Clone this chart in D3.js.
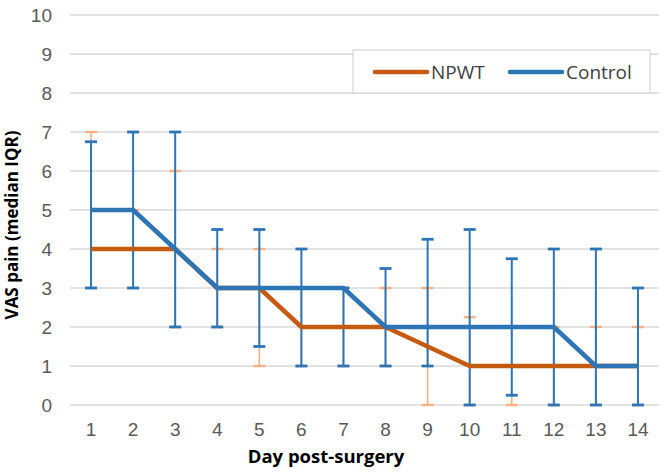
<!DOCTYPE html>
<html>
<head>
<meta charset="utf-8">
<script src="https://cdn.jsdelivr.net/npm/d3@7"></script>
<style>
  body { margin: 0; background: #fff; }
  svg { font-family: "Open Sans", "Noto Sans", sans-serif; }
</style>
</head>
<body>
<div id="wrapper"></div>
<script>
// data
const days = [1, 2, 3, 4, 5, 6, 7, 8, 9, 10, 11, 12, 13, 14]
const npwtMedian = [4, 4, 4, 3, 3, 2, 2, 2, 1.5, 1, 1, 1, 1, 1]
const npwtLow    = [3, 3, 2, 2, 1, 1, 1, 1, 0, 0, 0, 0, 0, 0]
const npwtHigh   = [7, 5, 6, 4, 4, 3, 3, 3, 3, 2.25, 2, 2, 2, 2]
const controlMedian = [5, 5, 4, 3, 3, 3, 3, 2, 2, 2, 2, 2, 1, 1]
const controlLow    = [3, 3, 2, 2, 1.5, 1, 1, 1, 1, 0, 0.25, 0, 0, 0]
const controlHigh   = [6.75, 7, 7, 4.5, 4.5, 4, 3, 3.5, 4.25, 4.5, 3.75, 4, 4, 3]
const yTicks = [0, 1, 2, 3, 4, 5, 6, 7, 8, 9, 10]

const series = [
    { name: "NPWT", median: npwtMedian, low: npwtLow, high: npwtHigh,
      color: "#c55a11", barColor: "#f4b183", barWidth: 1.6 },
    { name: "Control", median: controlMedian, low: controlLow, high: controlHigh,
      color: "#2e75b6", barColor: "#2e75b6", barWidth: 2 },
]

// Dimensions
const dimensions = {
    width: 664,
    height: 473,
    margins: { top: 15, right: 5, bottom: 68, left: 70 },
}
dimensions.boundedWidth = dimensions.width - dimensions.margins.left - dimensions.margins.right
dimensions.boundedHeight = dimensions.height - dimensions.margins.top - dimensions.margins.bottom

const svg = d3.select("#wrapper")
    .append("svg")
        .attr("width", dimensions.width)
        .attr("height", dimensions.height)

const bounds = svg.append("g")
    .attr("transform", `translate(${dimensions.margins.left},${dimensions.margins.top})`)

// Scales
const xScale = d3.scaleBand()
    .domain(days)
    .range([0, dimensions.boundedWidth])
const xCenter = d => xScale(d) + xScale.bandwidth() / 2

const yScale = d3.scaleLinear()
    .domain([0, 10])
    .range([dimensions.boundedHeight, 0])

// Gridlines
bounds.append("g")
    .selectAll("line")
    .data(yTicks)
    .join("line")
        .attr("x1", 0)
        .attr("x2", dimensions.boundedWidth)
        .attr("y1", d => yScale(d))
        .attr("y2", d => yScale(d))
        .attr("stroke", "#d9d9d9")
        .attr("stroke-width", 1.3)

// Axes
const yAxis = bounds.append("g")
    .call(d3.axisLeft(yScale).tickValues(yTicks).tickSize(0).tickPadding(18))
yAxis.select(".domain").remove()
yAxis.selectAll("text")
    .attr("fill", "#595959")
    .style("font-size", "19px")

const xAxis = bounds.append("g")
    .attr("transform", `translate(0,${dimensions.boundedHeight})`)
    .call(d3.axisBottom(xScale).tickSize(0).tickPadding(18))
xAxis.select(".domain").remove()
xAxis.selectAll("text")
    .attr("fill", "#595959")
    .style("font-size", "19px")

// Error bars
const capHalf = 6
series.forEach(s => {
    const g = bounds.append("g")
    const rows = days.map((d, i) => ({ day: d, low: s.low[i], high: s.high[i] }))
    g.selectAll(".stem")
        .data(rows)
        .join("line")
            .attr("x1", d => xCenter(d.day))
            .attr("x2", d => xCenter(d.day))
            .attr("y1", d => yScale(d.low))
            .attr("y2", d => yScale(d.high))
            .attr("stroke", s.barColor)
            .attr("stroke-width", s.barWidth)
    const caps = rows.flatMap(d => [{ day: d.day, v: d.low }, { day: d.day, v: d.high }])
    g.selectAll(".cap")
        .data(caps)
        .join("line")
            .attr("x1", d => xCenter(d.day) - capHalf)
            .attr("x2", d => xCenter(d.day) + capHalf)
            .attr("y1", d => yScale(d.v))
            .attr("y2", d => yScale(d.v))
            .attr("stroke", s.barColor)
            .attr("stroke-width", s.barWidth + 0.8)
})

// Lines
const lineGenerator = d3.line()
    .x(d => xCenter(d.day))
    .y(d => yScale(d.v))

series.forEach(s => {
    bounds.append("path")
        .attr("d", lineGenerator(days.map((d, i) => ({ day: d, v: s.median[i] }))))
        .attr("fill", "none")
        .attr("stroke", s.color)
        .attr("stroke-width", 4.5)
        .attr("stroke-linejoin", "round")
})

// Legend
const legend = svg.append("g")
legend.append("rect")
    .attr("x", 353)
    .attr("y", 50)
    .attr("width", 297)
    .attr("height", 43)
    .attr("fill", "#fff")
    .attr("stroke", "#d9d9d9")
    .attr("stroke-width", 1.3)
const legendX = [375, 510]
series.forEach((s, i) => {
    legend.append("line")
        .attr("x1", legendX[i])
        .attr("x2", legendX[i] + 52)
        .attr("y1", 72)
        .attr("y2", 72)
        .attr("stroke", s.color)
        .attr("stroke-width", 4.5)
        .attr("stroke-linecap", "round")
    legend.append("text")
        .attr("x", legendX[i] + 56)
        .attr("y", 72)
        .attr("dominant-baseline", "central")
        .attr("fill", "#404040")
        .style("font-size", "19px")
        .text(s.name)
})

// Axis titles
svg.append("text")
    .attr("x", 326)
    .attr("y", 463)
    .attr("text-anchor", "middle")
    .style("font-size", "18.5px")
    .style("font-weight", "bold")
    .text("Day post-surgery")

svg.append("text")
    .attr("transform", `translate(18,225) rotate(-90)`)
    .attr("text-anchor", "middle")
    .style("font-size", "17px")
    .style("font-weight", "bold")
    .text("VAS pain (median IQR)")
</script>
</body>
</html>
